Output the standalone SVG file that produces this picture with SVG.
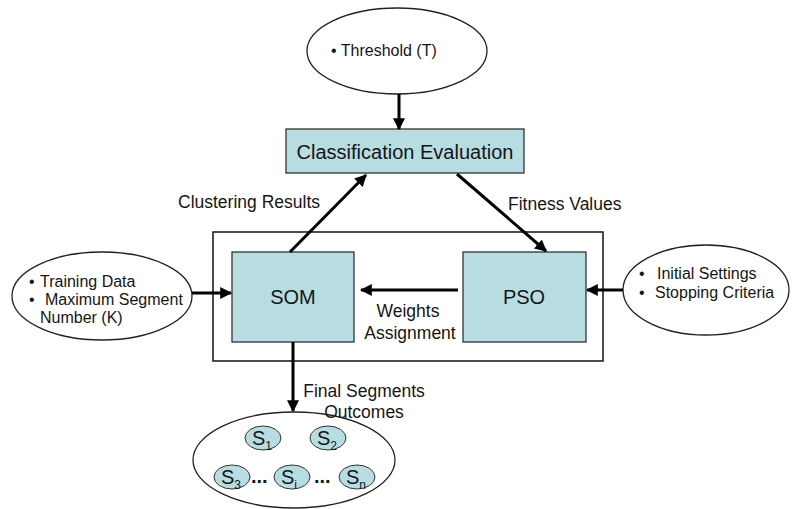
<svg xmlns="http://www.w3.org/2000/svg" width="792" height="509" viewBox="0 0 792 509">
<defs>
<marker id="ah" viewBox="0 0 10 10" refX="9" refY="5" markerWidth="4" markerHeight="4" orient="auto" markerUnits="strokeWidth"><path d="M0,0 L10,5 L0,10 z" fill="#000"/></marker>
<style>
text{font-family:"Liberation Sans",Arial,sans-serif;fill:#151515}
.lbl{font-size:17.5px}
.big{font-size:20px}
.box{fill:#b7dde3;stroke:#333;stroke-width:1.3}
.ell{fill:#fff;stroke:#222;stroke-width:1.3}
.sm{fill:#b7dde3;stroke:#333;stroke-width:1}
.con{stroke:#000;stroke-width:3;fill:none;marker-end:url(#ah)}
.bul{font-size:16px}
.s{font-size:20px}
.sub{font-size:12px}
.dots{font-size:20px;font-weight:bold}
</style>
</defs>
<rect width="792" height="509" fill="#fff"/>
<rect x="213" y="232" width="390" height="129" fill="none" stroke="#111" stroke-width="1.5"/>

<g id="threshold">
<ellipse class="ell" cx="397" cy="51" rx="90" ry="43"/>
<text class="bul" x="331" y="56">• Threshold (T)</text>
</g>
<g id="classification">
<rect class="box" x="286" y="129" width="238" height="44"/>
<text class="big" x="405" y="159" text-anchor="middle">Classification Evaluation</text>
</g>
<g id="som">
<rect class="box" x="232" y="252" width="122" height="90"/>
<text class="big" x="293" y="304" text-anchor="middle">SOM</text>
</g>
<g id="pso">
<rect class="box" x="463" y="252" width="123" height="90"/>
<text class="big" x="524" y="304" text-anchor="middle">PSO</text>
</g>
<g id="training">
<ellipse class="ell" cx="102" cy="296" rx="90" ry="44"/>
<text class="bul" x="29" y="287">•</text><text class="bul" x="40" y="287">Training Data</text>
<text class="bul" x="29" y="305">•</text><text class="bul" x="45" y="305">Maximum Segment</text>
<text class="bul" x="40" y="323">Number (K)</text>
</g>
<g id="settings">
<ellipse class="ell" cx="706" cy="290" rx="83" ry="45"/>
<text class="bul" x="639" y="279">•</text><text class="bul" x="657" y="279">Initial Settings</text>
<text class="bul" x="639" y="298">•</text><text class="bul" x="655" y="298">Stopping Criteria</text>
</g>
<g id="segments">
<ellipse class="ell" cx="294" cy="460" rx="101" ry="48"/>
<ellipse class="sm" cx="263" cy="438" rx="18" ry="12"/>
<text class="s" x="252" y="445">S<tspan class="sub" dy="5">1</tspan></text>
<ellipse class="sm" cx="328" cy="438" rx="18" ry="12"/>
<text class="s" x="317" y="445">S<tspan class="sub" dy="5">2</tspan></text>
<ellipse class="sm" cx="232" cy="477" rx="18" ry="12"/>
<text class="s" x="221" y="484">S<tspan class="sub" dy="5">3</tspan></text>
<ellipse class="sm" cx="292" cy="477" rx="18" ry="12"/>
<text class="s" x="281" y="484">S<tspan class="sub" dy="5">i</tspan></text>
<ellipse class="sm" cx="357" cy="477" rx="18" ry="12"/>
<text class="s" x="346" y="484">S<tspan class="sub" dy="5">n</tspan></text>
<text class="dots" x="251" y="483">...</text>
<text class="dots" x="314" y="483">...</text>
</g>

<g id="connectors">
<line class="con" x1="399" y1="94" x2="399" y2="129"/>
<line class="con" x1="290" y1="252" x2="366" y2="175"/>
<line class="con" x1="457" y1="174" x2="546" y2="251"/>
<line class="con" x1="458" y1="290" x2="361" y2="290"/>
<line class="con" x1="192" y1="293" x2="231" y2="293"/>
<line class="con" x1="623" y1="290" x2="587" y2="290"/>
<line class="con" x1="293" y1="342" x2="293" y2="411"/>
<text class="lbl" x="178" y="208">Clustering Results</text>
<text class="lbl" x="508" y="210">Fitness Values</text>
<text class="lbl" x="408" y="317" text-anchor="middle">Weights</text>
<text class="lbl" x="410" y="339" text-anchor="middle">Assignment</text>
<text class="lbl" x="364" y="397" text-anchor="middle">Final Segments</text>
<text class="lbl" x="364" y="418" text-anchor="middle">Outcomes</text>
</g>
</svg>
